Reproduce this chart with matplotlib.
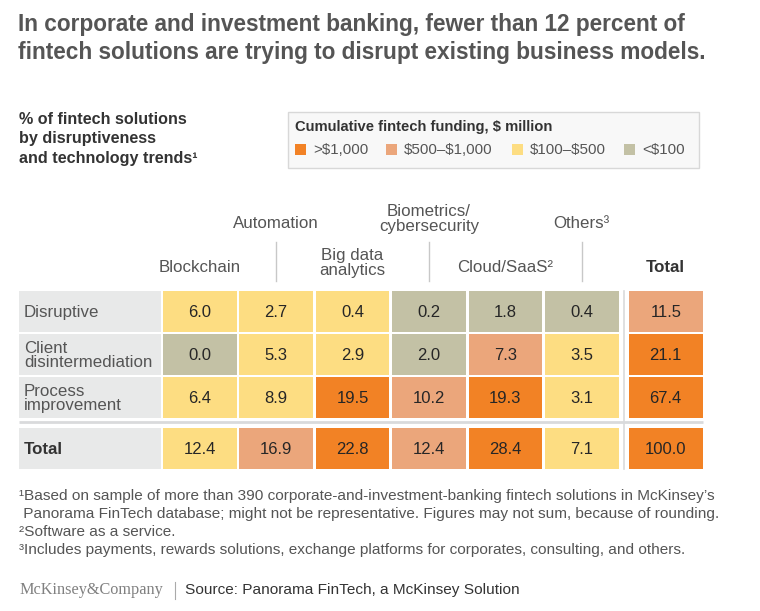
import matplotlib.pyplot as plt
from matplotlib.patches import Rectangle

plt.rcParams['font.family'] = ['Liberation Sans', 'DejaVu Sans']
plt.rcParams['text.parse_math'] = False

title_lines = ["In corporate and investment banking, fewer than 12 percent of",
               "fintech solutions are trying to disrupt existing business models."]
subtitle = "% of fintech solutions\nby disruptiveness\nand technology trends\u00b9"

trends = ["Blockchain", "Automation", "Big data\nanalytics", "Biometrics/\ncybersecurity",
          "Cloud/SaaS\u00b2", "Others\u00b3"]
rows = ["Disruptive", "Client\ndisintermediation", "Process\nimprovement"]

values = [[6.0, 2.7, 0.4, 0.2, 1.8, 0.4],
          [0.0, 5.3, 2.9, 2.0, 7.3, 3.5],
          [6.4, 8.9, 19.5, 10.2, 19.3, 3.1]]
row_totals = [11.5, 21.1, 67.4]
col_totals = [12.4, 16.9, 22.8, 12.4, 28.4, 7.1]
grand_total = 100.0

# funding bucket per cell: 0 >$1,000, 1 $500-$1,000, 2 $100-$500, 3 <$100
funding = [[2, 2, 2, 3, 3, 3],
           [3, 2, 2, 3, 1, 2],
           [2, 2, 0, 1, 0, 2]]
row_total_funding = [1, 0, 0]
col_total_funding = [2, 1, 0, 1, 0, 2]
grand_funding = 0

legend_title = "Cumulative fintech funding, $ million"
legend_labels = [">$1,000", "$500\u2013$1,000", "$100\u2013$500", "<$100"]
colors = ["#F28225", "#EBA67B", "#FDDD82", "#C3C1A5"]

footnotes = ["\u00b9Based on sample of more than 390 corporate-and-investment-banking fintech solutions in McKinsey\u2019s",
             " Panorama FinTech database; might not be representative. Figures may not sum, because of rounding.",
             "\u00b2Software as a service.",
             "\u00b3Includes payments, rewards solutions, exchange platforms for corporates, consulting, and others."]
source = "Source: Panorama FinTech, a McKinsey Solution"

fig = plt.figure(figsize=(7.6, 6.11), dpi=100)
ax = fig.add_axes([0, 0, 1, 1])
ax.set_xlim(0, 760)
ax.set_ylim(611, 0)
ax.axis('off')

dark = "#333333"
grey = "#555555"

# title
for i, line in enumerate(title_lines):
    ax.text(18, 25 + i * 28, line, fontsize=16.3, fontweight='bold', color="#555555", va='center')

ax.text(19, 139, subtitle, fontsize=11.6, fontweight='bold', color=dark, va='center', linespacing=1.38)

# legend box
ax.add_patch(Rectangle((288, 112), 411, 56, facecolor="#F8F8F8", edgecolor="#D8D8D8", lw=1))
ax.text(295, 127, legend_title, fontsize=10.6, fontweight='bold', color=dark, va='center')
leg_x = [295, 386, 512, 624]
for x, lab, c in zip(leg_x, legend_labels, colors):
    ax.add_patch(Rectangle((x, 144), 11, 11, facecolor=c, edgecolor='none'))
    ax.text(x + 18, 150, lab, fontsize=10.9, color=grey, va='center')

# grid geometry
x0, pitch, cw = 163, 76.4, 73.5
row_y = [291, 334, 377]
ch = 40.5
tot_y = 428
tot_x = 629
lab_x, lab_w = 19, 142

def cell(x, y, val, bucket):
    ax.add_patch(Rectangle((x, y), cw, ch, facecolor=colors[bucket], edgecolor='none'))
    ax.text(x + cw / 2, y + ch / 2 + 1, f"{val:.1f}", fontsize=12, color="#262626",
            ha='center', va='center')

for r, name in enumerate(rows):
    y = row_y[r]
    ax.add_patch(Rectangle((lab_x, y), lab_w, ch, facecolor="#E8E9E9", edgecolor='none'))
    ax.text(lab_x + 5, y + ch / 2 + 1, name, fontsize=12.2, color=grey, va='center', linespacing=0.92)
    for c in range(len(trends)):
        cell(x0 + c * pitch, y, values[r][c], funding[r][c])
    cell(tot_x, y, row_totals[r], row_total_funding[r])

ax.add_patch(Rectangle((lab_x, tot_y), lab_w, ch, facecolor="#E8E9E9", edgecolor='none'))
ax.text(lab_x + 5, tot_y + ch / 2 + 1, "Total", fontsize=12.2, fontweight='bold', color=dark, va='center')
for c in range(len(trends)):
    cell(x0 + c * pitch, tot_y, col_totals[c], col_total_funding[c])
cell(tot_x, tot_y, grand_total, grand_funding)

# separators
ax.plot([lab_x, tot_x + cw], [422, 422], color="#D9DADC", lw=2, solid_capstyle='butt')
ax.plot([624, 624], [row_y[0], tot_y + ch], color="#D9DADC", lw=1.2)

# column headers, staggered
for c, name in enumerate(trends):
    xc = x0 + c * pitch + cw / 2
    if c % 2 == 0:
        ax.text(xc, 268 if "\n" not in name else 263, name, fontsize=12.2, color=grey,
                ha='center', va='center', linespacing=0.92)
    else:
        ax.text(xc, 223 if "\n" not in name else 219, name, fontsize=12.2, color=grey,
                ha='center', va='center', linespacing=0.92)
        ax.plot([xc, xc], [242, 281], color="#C8C8C8", lw=1)
ax.text(tot_x + cw / 2, 268, "Total", fontsize=12.2, fontweight='bold', color=dark, ha='center', va='center')

# footnotes
for i, line in enumerate(footnotes):
    ax.text(19, 496 + i * 18, line, fontsize=11.05, color=grey, va='center')

ax.text(19, 590, "McKinsey&Company", fontsize=11.7, family='Liberation Serif', color="#808080", va='center')
ax.plot([175, 175], [582, 599], color="#AAAAAA", lw=0.8)
ax.text(185, 590, source, fontsize=11.1, color=dark, va='center')

fig.savefig("out.png", dpi=100)
